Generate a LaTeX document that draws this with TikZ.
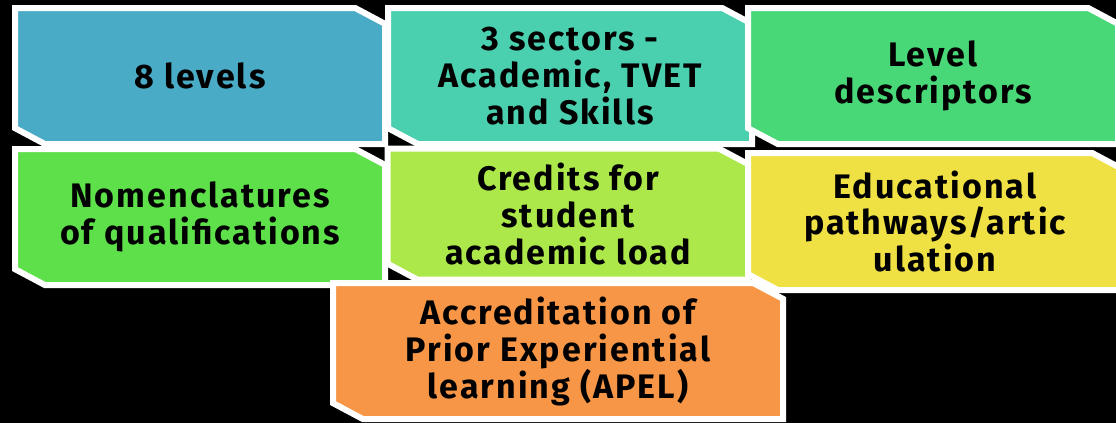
\documentclass[tikz,border=0pt]{standalone}
\usepackage{fontspec}
\newfontfamily\boxfont{Fira Sans}[LetterSpace=6]
\usetikzlibrary{shapes.misc}
\definecolor{levelblue}{HTML}{4AABC6}
\definecolor{sectorteal}{HTML}{4ACFAF}
\definecolor{descgreen}{HTML}{48D877}
\definecolor{nomengreen}{HTML}{5EE04A}
\definecolor{creditlime}{HTML}{ADE84A}
\definecolor{pathyellow}{HTML}{EFE044}
\definecolor{apelorange}{HTML}{F79646}
\tikzset{
	defaultbox/.style={
			chamfered rectangle,
			chamfered rectangle corners={north east,south west},
			chamfered rectangle xsep=9.5pt,
			chamfered rectangle angle=62,
			draw=white,
			line width=3pt,
			inner sep=0pt,
			align=center,
			text=black,
			font=\boxfont\bfseries\fontsize{17}{18.5}\selectfont
		},
	widebox/.style={
			defaultbox,
			minimum width=185pt,
			minimum height=68pt
		}
}

\begin{document}
\begin{tikzpicture}[x=0.5pt, y=-0.5pt]
				\useasboundingbox (0,0) rectangle (1116,423);
				\fill[black] (0,0) rectangle (1116,423);
				\clip (0,0) rectangle (1116,423);

				\node[widebox, fill=levelblue] at (200,76) (levels) {8 levels};
				\node[widebox, fill=sectorteal, minimum width=182pt] at (570,76) (sectors) {3 sectors -\\Academic, TVET\\and Skills};
				\node[widebox, fill=descgreen] at (933,76) (desc) {Level\\descriptors};

				\node[widebox, fill=nomengreen] at (200,217) (nomen) {Nomenclatures\\of qualifications};
				\node[widebox, fill=creditlime, minimum width=180.5pt, minimum height=65.5pt] at (568,214) (credits) {Credits for\\student\\academic load};
				\node[widebox, fill=pathyellow, minimum width=187pt, minimum height=68.5pt] at (935,221.5) (paths) {Educational\\pathways/artic\\ulation};

				\node[widebox, fill=apelorange, minimum width=225pt] at (558,351) (apel) {Accreditation of\\Prior Experiential\\learning (APEL)};
			\end{tikzpicture}
\end{document}
